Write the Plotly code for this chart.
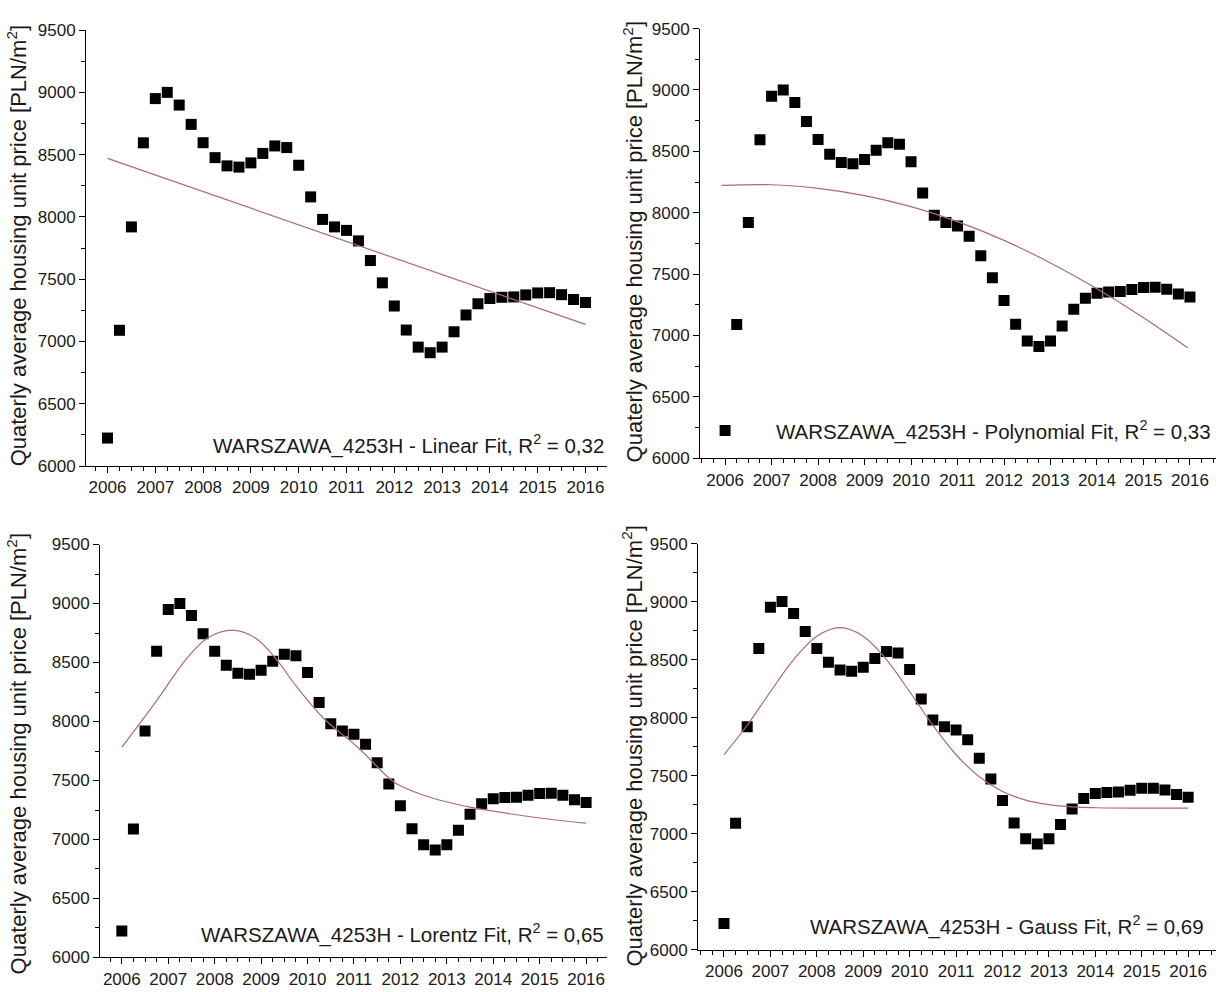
import plotly.graph_objects as go

# ---- data ----
quarters = [2006 + q / 4 for q in range(41)]
price = [6225, 7090, 7920, 8595, 8950, 9000, 8898, 8743, 8596, 8476,
         8410, 8400, 8434, 8510, 8570, 8557, 8415, 8161, 7980, 7920,
         7892, 7808, 7650, 7471, 7285, 7092, 6955, 6910, 6955, 7078,
         7213, 7303, 7345, 7355, 7358, 7374, 7390, 7392, 7376, 7337, 7313]

linear_x = [2006.0, 2016.0]
linear_y = [8470, 7137]

poly_x = [2005.93, 2007.0, 2008.0, 2009.0, 2010.0, 2011.0, 2012.0, 2013.0, 2014.0, 2015.0, 2015.95]
poly_y = [8223, 8228, 8199, 8140, 8050, 7928, 7775, 7591, 7380, 7145, 6900]

lorentz_x = [2006.0, 2006.72, 2007.44, 2007.88, 2008.4, 2008.9, 2009.33, 2009.76, 2010.35,
             2011.08, 2011.8, 2012.0, 2012.5, 2013.0, 2013.5, 2014.0, 2015.0, 2016.0]
lorentz_y = [7782, 8161, 8554, 8716, 8775, 8702, 8527, 8297, 8026,
             7782, 7505, 7455, 7375, 7318, 7275, 7240, 7182, 7138]

gauss_x = [2006.0, 2006.5, 2007.0, 2007.5, 2008.0, 2008.5, 2009.0, 2009.5, 2010.0, 2010.5,
           2011.0, 2011.5, 2012.0, 2012.5, 2013.0, 2013.5, 2014.0, 2015.0, 2016.0]
gauss_y = [7680, 7934, 8223, 8500, 8702, 8775, 8702, 8500, 8223, 7934,
           7680, 7490, 7363, 7289, 7250, 7230, 7223, 7220, 7220]

fit_labels = [
    "WARSZAWA_4253H - Linear Fit, R<sup>2</sup> = 0,32",
    "WARSZAWA_4253H - Polynomial Fit, R<sup>2</sup> = 0,33",
    "WARSZAWA_4253H - Lorentz Fit, R<sup>2</sup> = 0,65",
    "WARSZAWA_4253H - Gauss Fit, R<sup>2</sup> = 0,69",
]
y_title = "Quaterly average housing unit price [PLN/m<sup>2</sup>]"
year_ticks = list(range(2006, 2017))

# ---- layout geometry (pixels) ----
W, H = 1216, 992
FONT = "Arial, Liberation Sans, sans-serif"
LINE_COLOR = "#b06a6a"

panels = [
    dict(xl=86, xr=607, yt=21.5, yb=466, xrange=[2005.55, 2016.45], tx=17, ty=242, lx=606, ly=444),
    dict(xl=700, xr=1216, yt=20, yb=458, xrange=[2005.46, 2016.56], tx=633, ty=238, lx=1213, ly=430),
    dict(xl=100, xr=607, yt=546, yb=967, xrange=[2005.53, 2016.45], tx=17, ty=760, lx=606, ly=943),
    dict(xl=698, xr=1216, yt=545, yb=959, xrange=[2005.44, 2016.6], tx=632, ty=752, lx=1206, ly=934),
]
fits = [(linear_x, linear_y), (poly_x, poly_y), (lorentz_x, lorentz_y), (gauss_x, gauss_y)]

fig = go.Figure()
annotations = []
for k, (p, (fx, fy)) in enumerate(zip(panels, fits)):
    n = "" if k == 0 else str(k + 1)
    xa, ya = "x" + n, "y" + n
    fig.add_trace(go.Scatter(
        x=quarters, y=price, mode="markers", xaxis=xa, yaxis=ya,
        marker=dict(symbol="square", size=11, color="black"),
        showlegend=False, hoverinfo="skip"))
    fig.add_trace(go.Scatter(
        x=fx, y=fy, mode="lines", line=dict(color=LINE_COLOR, width=1.2, shape="spline"),
        xaxis=xa, yaxis=ya, showlegend=False, hoverinfo="skip"))

    axis_common = dict(showline=True, linecolor="black", linewidth=1, showgrid=False,
                       zeroline=False, ticks="outside", ticklen=6, tickcolor="black",
                       tickfont=dict(family=FONT, size=17, color="#1a1a1a"))
    fig.layout["xaxis" + n] = dict(
        **axis_common,
        domain=[p["xl"] / W, p["xr"] / W], range=p["xrange"],
        anchor=ya, tickmode="array", tickvals=year_ticks,
        ticktext=[str(t) for t in year_ticks],
        minor=dict(ticks="outside", dtick=0.25, tick0=2006, ticklen=4, tickcolor="black"))
    fig.layout["yaxis" + n] = dict(
        **axis_common,
        domain=[1 - p["yb"] / H, 1 - p["yt"] / H], range=[6000, 9500],
        anchor=xa, dtick=500, tick0=6000,
        minor=dict(ticks="outside", dtick=250, tick0=6000, ticklen=4, tickcolor="black"))

    annotations.append(dict(
        text=y_title, x=p["tx"] / W, y=1 - p["ty"] / H, xref="paper", yref="paper",
        textangle=-90, showarrow=False, xanchor="center", yanchor="middle",
        font=dict(family=FONT, size=22, color="#1a1a1a")))
    annotations.append(dict(
        text=fit_labels[k], x=p["lx"] / W, y=1 - p["ly"] / H, xref="paper", yref="paper",
        showarrow=False, xanchor="right", yanchor="middle",
        font=dict(family=FONT, size=20.5, color="#1a1a1a")))

fig.update_layout(
    width=W, height=H, margin=dict(l=0, r=0, t=0, b=0),
    paper_bgcolor="white", plot_bgcolor="white",
    annotations=annotations, showlegend=False)

fig.write_html("out.html")
